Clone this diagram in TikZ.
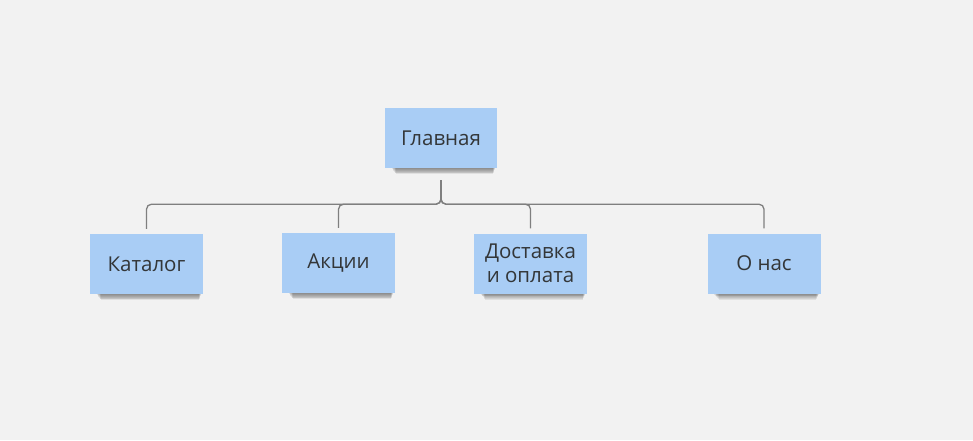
\documentclass[tikz,border=0pt]{standalone}
\usepackage{fontspec}
\setmainfont{Open Sans}
\usetikzlibrary{calc}
\definecolor{bg}{HTML}{F2F2F2}
\definecolor{note}{HTML}{A9CDF5}
\definecolor{ink}{HTML}{333638}
\definecolor{wire}{HTML}{7F7F7F}
\tikzset{
  sticky/.style={fill=note, minimum width=113pt, minimum height=60pt, inner sep=2pt,
    font=\fontsize{20.5}{24}\selectfont, text=ink, align=center},
  conn/.style={draw=wire, line width=1.3pt, rounded corners=5pt},
}
% soft shadow along the lower edge of a note (y axis points down)
\newcommand{\noteshadow}[1]{%
  \foreach \k in {0,...,6}{
    \fill[black, opacity=0.07]
      ($(#1.south west)+(7+\k*0.7,-2)$) rectangle ($(#1.south east)+(-2-\k*0.4,1+\k*0.85)$);
  }%
}
\begin{document}
\begin{tikzpicture}[x=1pt,y=-1pt]
  \fill[bg] (0,0) rectangle (973,440);
  \useasboundingbox (0,0) rectangle (973,440);

  \coordinate (pm) at (441,138);
  \coordinate (p1) at (146.5,264);
  \coordinate (p2) at (338.5,263);
  \coordinate (p3) at (530.5,263.5);
  \coordinate (p4) at (764,263.5);

  % shadows under the notes
  \node[sticky, minimum width=112pt, opacity=0] (mainS) at (pm) {};
  \node[sticky, opacity=0] (c1S) at (p1) {};
  \node[sticky, opacity=0] (c2S) at (p2) {};
  \node[sticky, opacity=0] (c3S) at (p3) {};
  \node[sticky, opacity=0] (c4S) at (p4) {};
  \noteshadow{mainS}
  \noteshadow{c1S}
  \noteshadow{c2S}
  \noteshadow{c3S}
  \noteshadow{c4S}

  \node[sticky, minimum width=112pt] (main) at (pm) {Главная};
  \node[sticky] (cat) at (p1) {Каталог};
  \node[sticky] (sale) at (p2) {Акции};
  \node[sticky] (ship) at (p3) {Доставка\\и оплата};
  \node[sticky] (about) at (p4) {О нас};

  % tree connectors
  \foreach \c in {cat,sale,ship,about}{
    \draw[conn] ([yshift=-12pt]main.south) -- ++(0,24) -| ([yshift=5pt]\c.north);
  }
\end{tikzpicture}
\end{document}
